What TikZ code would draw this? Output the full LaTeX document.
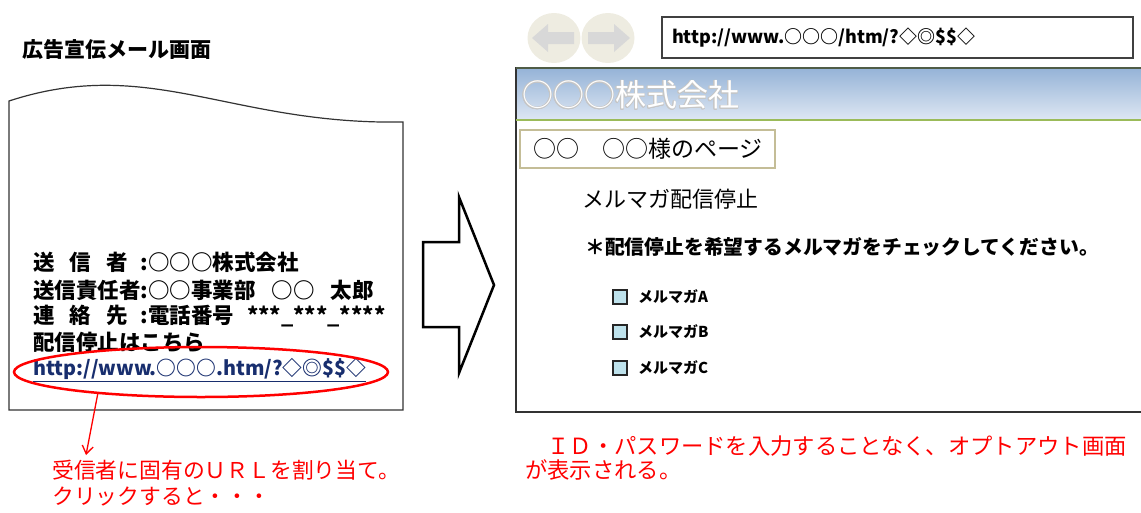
\documentclass[tikz,border=0pt]{standalone}
\usepackage{fontspec}
\setmainfont{Noto Sans CJK JP}
\usetikzlibrary{positioning,shapes.geometric,arrows.meta}
\definecolor{urlblue}{RGB}{24,46,110}
\definecolor{hdrtop}{RGB}{149,179,215}
\definecolor{hdrbot}{RGB}{222,231,243}
\definecolor{hdrgreen}{RGB}{155,187,89}
\definecolor{hdrdark}{RGB}{79,92,70}
\definecolor{tanline}{RGB}{196,189,151}
\definecolor{btnfill}{RGB}{238,236,225}
\definecolor{btnarrow}{RGB}{216,216,216}
\definecolor{chkfill}{RGB}{190,226,236}
\newcommand\fs[1]{\fontsize{#1}{#1}\selectfont}
\newcommand\lbl[1]{\makebox[5em][l]{#1}}

\begin{document}
\begin{tikzpicture}[x=1pt,y=-1pt,
    mailtxt/.style={anchor=west,inner sep=0pt,font=\bfseries\fs{21.5}},
    note/.style={anchor=west,inner sep=0pt,text=red,font=\fs{21.8}},
    pagetxt/.style={anchor=west,inner sep=0pt,font=\fs{22}},
    hdrtxt/.style={anchor=west,inner sep=0pt,font=\fs{31}},
    chk/.style={draw=black!85,line width=1.8pt,fill=chkfill,minimum size=14pt,inner sep=0pt},
    chklbl/.style={inner sep=0pt,font=\bfseries\fs{15}},
    btn/.style={ellipse,fill=btnfill,minimum width=53pt,minimum height=50pt,inner sep=0pt}]
    \useasboundingbox (0,0) rectangle (1141,512);
    \node[anchor=west,inner sep=0pt,font=\bfseries\fs{21}] (title) at (22,50) {広告宣伝メール画面};
    \draw[gray!40!black,line width=1.2] (9,410) -- (9,101) .. controls (150,55) and (230,125) .. (403,122) -- (403,410) -- cycle;
    \node[mailtxt] (sender) at (33,262) {\lbl{送\hspace{.7em}信\hspace{.7em}者}:○○○株式会社};
    \node[mailtxt] (resp) at (33,290) {\lbl{送信責任者}:○○事業部\hspace{.75em}○○\hspace{.75em}太郎};
    \node[mailtxt] (contact) at (33,316) {\lbl{連\hspace{.7em}絡\hspace{.7em}先}:電話番号\hspace{.6em}***\_***\_****};
    \node[mailtxt] (optout) at (33,342) {配信停止はこちら};
    \node[mailtxt,text=urlblue,font=\bfseries\fs{19.8}] (url) at (33,370) {\underline{http://www.○○○.htm/?◇◎\$\$◇}};
    \node[ellipse,draw=red,line width=2.5pt,minimum width=374pt,minimum height=50pt,inner sep=0pt] (ring) at (201,372) {};
    \coordinate (tip) at (86,455);
    \draw[red,line width=1.3,-{Straight Barb[length=8pt,width=11pt]}] (ring.192) -- (tip);
    \node[note] (uniq) at (52,470) {受信者に固有のＵＲＬを割り当て。};
    \node[note] (click) at (52,497) {クリックすると・・・};
    \draw[line width=2.5,line join=miter] (423,242) -- (459,242) -- (459,197) -- (494,285) -- (459,373) -- (459,327) -- (423,327) -- cycle;
    \node[btn] (back) at (554,38) {};
    \node[btn] (fwd) at (608,38) {};
    \fill[btnarrow,shift={(back.center)}] (-22,0) -- (-6,-14) -- (-6,-6) -- (20,-6) -- (20,6) -- (-6,6) -- (-6,14) -- cycle;
    \fill[btnarrow,shift={(fwd.center)}] (22,0) -- (6,-14) -- (6,-6) -- (-20,-6) -- (-20,6) -- (6,6) -- (6,14) -- cycle;
    \node[draw=gray!50!black,line width=1.5pt,fill=white,text width=451pt,inner xsep=10pt,minimum height=41pt,align=left,font=\bfseries\fs{18}] (addr) at (897.5,37.5) {http://www.○○○/htm/?◇◎\$\$◇};
    \shade[top color=hdrtop,bottom color=hdrbot] (516,68) rectangle (1141,120);
    \draw[gray!40!black,line width=1.2] (1150,68) -- (516,68) -- (516,412) -- (1150,412);
    \draw[hdrdark,line width=2] (516,68) -- (1150,68);
    \draw[hdrgreen,line width=2] (516,120) -- (1150,120);
    \foreach \a in {0,30,...,330}
        \node[hdrtxt,text=gray!45] at ([shift={(\a:0.6)}]522,95) {○○○株式会社};
    \node[hdrtxt,text=white] (corp) at (522,95) {○○○株式会社};
    \node[draw=tanline,line width=2pt,text width=229pt,inner xsep=13pt,minimum height=38pt,align=left,font=\fs{23}] (who) at (647.5,149) {○○　○○様のページ};
    \node[pagetxt] (unsub) at (582,199) {メルマガ配信停止};
    \node[pagetxt,font=\bfseries\fs{19.8}] (ask) at (585,247) {＊配信停止を希望するメルマガをチェックしてください。};
    \foreach \n/\y in {A/297,B/332,C/368} {
        \node[chk] (chk\n) at (620,\y) {};
        \node[chklbl,right=10pt of chk\n] (lbl\n) {メルマガ\n};
    }
    \node[note,font=\fs{22.3}] (noid) at (525,446) {　ＩＤ・パスワードを入力することなく、オプトアウト画面};
    \node[note,font=\fs{22.3}] (shown) at (525,470) {が表示される。};
\end{tikzpicture}
\end{document}
